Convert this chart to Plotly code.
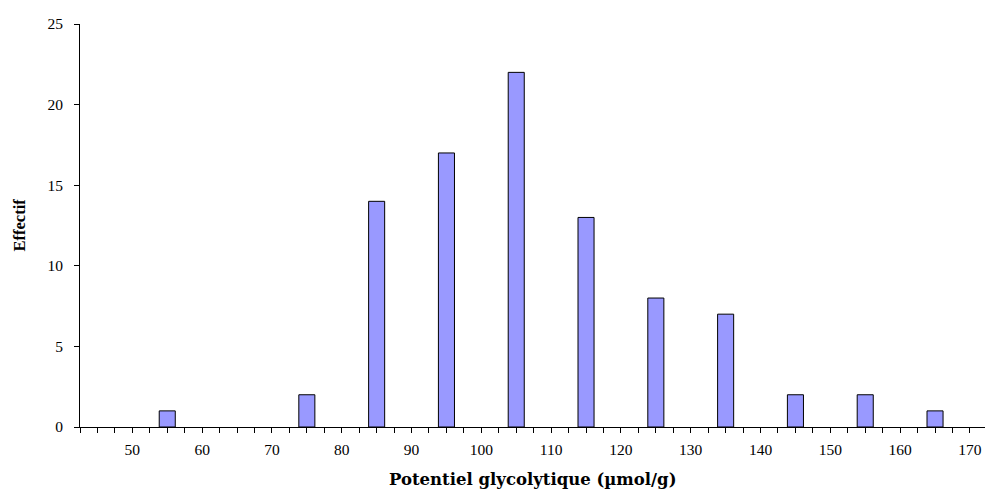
import plotly.graph_objects as go

bin_centers = [55, 75, 85, 95, 105, 115, 125, 135, 145, 155, 165]
counts = [1, 2, 14, 17, 22, 13, 8, 7, 2, 2, 1]
x_tick_values = [50, 60, 70, 80, 90, 100, 110, 120, 130, 140, 150, 160, 170]
y_tick_values = [0, 5, 10, 15, 20, 25]

fig = go.Figure()
fig.add_trace(go.Bar(
    x=bin_centers, y=counts, width=2.3,
    marker=dict(color="#9999FF", line=dict(color="black", width=1)),
))

font_family = "Liberation Serif, Times New Roman, serif"
fig.update_layout(
    width=985, height=489,
    margin=dict(l=80, r=0, t=24, b=62, autoexpand=False),
    plot_bgcolor="white", paper_bgcolor="white",
    showlegend=False,
    font=dict(family=font_family, size=15.5, color="black"),
    xaxis=dict(
        range=[42.5, 172.16], automargin=False,
        tickmode="array", tickvals=x_tick_values,
        ticks="outside", ticklen=5, tickcolor="black", tickwidth=1,
        minor=dict(dtick=2.5, tick0=42.5, ticks="outside", ticklen=5, tickcolor="black", tickwidth=1),
        showline=True, linecolor="black", linewidth=1,
        showgrid=False, zeroline=False,
        ticklabelstandoff=3,
    ),
    yaxis=dict(
        range=[0, 25], automargin=False,
        tickmode="array", tickvals=y_tick_values,
        ticks="outside", ticklen=5, tickcolor="black", tickwidth=1,
        showline=True, linecolor="black", linewidth=1,
        showgrid=False, zeroline=False,
        ticklabelstandoff=8,
    ),
    annotations=[
        dict(text="<b>Potentiel glycolytique (µmol/g)</b>", xref="paper", yref="paper",
             x=0.5, y=-0.1315, xanchor="center", yanchor="middle", showarrow=False,
             font=dict(family="DejaVu Serif, serif", size=16.5)),
        dict(text="<b>Effectif</b>", xref="paper", yref="paper",
             x=-0.0674, y=0.5, xanchor="center", yanchor="middle", showarrow=False,
             textangle=-90, font=dict(family=font_family, size=16.5)),
    ],
)

fig.write_html("out.html", config={"displayModeBar": False},
               post_script="document.body.style.margin='0';")
